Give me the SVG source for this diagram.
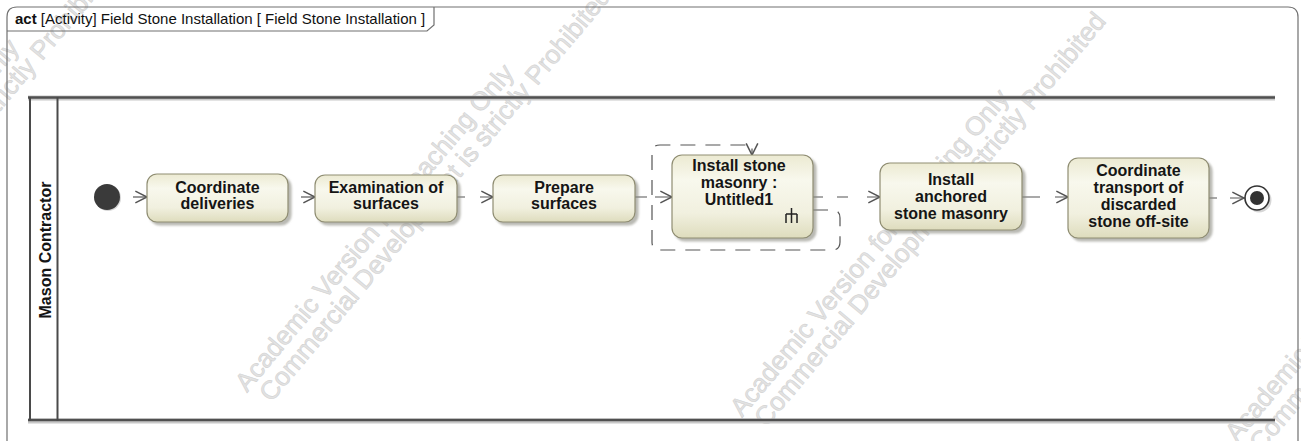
<svg xmlns="http://www.w3.org/2000/svg" width="1301" height="441" viewBox="0 0 1301 441">
<defs>
<linearGradient id="nodeFill" x1="0" y1="0" x2="0" y2="1">
<stop offset="0" stop-color="#ecead2"/>
<stop offset="0.3" stop-color="#f8f8ed"/>
<stop offset="0.7" stop-color="#f1f0df"/>
<stop offset="1" stop-color="#dedcbd"/>
</linearGradient>
<filter id="shadow" x="-10%" y="-10%" width="130%" height="140%">
<feDropShadow dx="3" dy="3" stdDeviation="1.3" flood-color="#8a8a80" flood-opacity="0.6"/>
</filter>
<marker id="arrow" markerUnits="userSpaceOnUse" markerWidth="14" markerHeight="14" refX="10" refY="5" orient="auto" viewBox="0 0 12 10">
<path d="M0,0 L10,5 L0,10" fill="none" stroke="#555" stroke-width="1.3"/>
</marker>
<style>
.frame{fill:none;stroke:#707070;stroke-width:1.2}
.wm{font-family:"Liberation Sans",Arial,sans-serif;font-size:26px;fill:#e3e3e3;stroke:#d2d2d2;stroke-width:0.6}
.lane{stroke:#4a4a4a;fill:none}
.node rect{fill:url(#nodeFill);stroke:#8f8d72;stroke-width:1.2;filter:url(#shadow)}
.lbl{font-family:"Liberation Sans",Arial,sans-serif;font-size:16px;font-weight:bold;fill:#151515;text-anchor:middle}
.conn{fill:none;stroke:#555;stroke-width:1.2}
</style>
</defs>
<rect width="1301" height="441" fill="#fff"/>

<g id="watermark">
<g transform="translate(-248,368) rotate(-50)"><text class="wm" x="0" y="0">Academic Version for Teaching Only</text><text class="wm" x="8" y="25">Commercial Development is strictly Prohibited</text></g>
<g transform="translate(247,393) rotate(-50)"><text class="wm" x="0" y="0">Academic Version for Teaching Only</text><text class="wm" x="8" y="25">Commercial Development is strictly Prohibited</text></g>
<g transform="translate(742,418) rotate(-50)"><text class="wm" x="0" y="0">Academic Version for Teaching Only</text><text class="wm" x="8" y="25">Commercial Development is strictly Prohibited</text></g>
<g transform="translate(1237,443) rotate(-50)"><text class="wm" x="0" y="0">Academic Version for Teaching Only</text><text class="wm" x="8" y="25">Commercial Development is strictly Prohibited</text></g>
</g>

<g id="frame">
<path class="frame" d="M7,441 V17 Q7,7 17,7 H1288 Q1298,7 1298,17 V441"/>
<path class="frame" d="M7,31 H427 L434,25 V7"/>
<text x="15" y="24" font-family="Liberation Sans, Arial, sans-serif" font-size="15" fill="#111"><tspan font-weight="bold">act</tspan> [Activity] Field Stone Installation [ Field Stone Installation ]</text>
</g>

<g id="lane-mason-contractor">
<line x1="28" y1="98" x2="1275" y2="98" stroke="#c8c8c8" stroke-width="5"/>
<line x1="28" y1="97.5" x2="1275" y2="97.5" stroke="#505050" stroke-width="2.5"/>
<line x1="28" y1="421" x2="1275" y2="421" stroke="#c8c8c8" stroke-width="5"/>
<line x1="28" y1="420" x2="1275" y2="420" stroke="#505050" stroke-width="2.5"/>
<line class="lane" x1="30" y1="97" x2="30" y2="421" stroke-width="2"/>
<line class="lane" x1="57.5" y1="97" x2="57.5" y2="421" stroke-width="2"/>
<text class="lbl" transform="translate(51,250) rotate(-90)">Mason Contractor</text>
</g>

<g id="connectors">
<path class="conn" d="M133,197 H147" marker-end="url(#arrow)"/>
<path class="conn" d="M301,197 H315" marker-end="url(#arrow)"/>
<path class="conn" d="M457,197 H465 M480,197 H493" marker-end="url(#arrow)"/>
<path class="conn" d="M635,197 H647 M655,197 H672" marker-end="url(#arrow)"/>
<path class="conn" d="M813,197 H823 M837,197 H848 M867,197 H880" marker-end="url(#arrow)"/>
<path class="conn" d="M1022,197 H1040 M1055,197 H1068" marker-end="url(#arrow)"/>
<path class="conn" d="M1209,198 H1217 M1230,198 H1244" marker-end="url(#arrow)"/>
<path class="conn" d="M813,210 H832 Q840,210 840,218 V242 Q840,250 832,250 H660 Q652,250 652,242 V153 Q652,145 660,145 H752 V155" stroke-dasharray="15 10" marker-end="url(#arrow)"/>
</g>

<g id="initial-node">
<circle cx="108" cy="198" r="13" fill="#bbb" opacity="0.6"/>
<circle cx="107" cy="197" r="13" fill="#3a3a3a"/>
</g>

<g id="node-coordinate-deliveries" class="node">
<rect x="147" y="174" width="141" height="48" rx="10"/>
<text class="lbl" x="217.5" y="193">Coordinate</text>
<text class="lbl" x="217.5" y="209">deliveries</text>
</g>

<g id="node-examination-of-surfaces" class="node">
<rect x="315" y="175" width="142" height="47" rx="10"/>
<text class="lbl" x="386" y="193">Examination of</text>
<text class="lbl" x="386" y="209">surfaces</text>
</g>

<g id="node-prepare-surfaces" class="node">
<rect x="493" y="175" width="142" height="47" rx="10"/>
<text class="lbl" x="564" y="193">Prepare</text>
<text class="lbl" x="564" y="209">surfaces</text>
</g>

<g id="node-install-stone-masonry" class="node">
<rect x="672" y="155" width="141" height="83" rx="10"/>
<text class="lbl" x="739" y="171">Install stone</text>
<text class="lbl" x="739" y="188">masonry :</text>
<text class="lbl" x="739" y="205">Untitled1</text>
<path d="M791.5,208 V223 M786,214 H797 M786,214 V223 M797,214 V223" fill="none" stroke="#222" stroke-width="1.5"/>
</g>

<g id="node-install-anchored-stone-masonry" class="node">
<rect x="880" y="163" width="142" height="67" rx="10"/>
<text class="lbl" x="951" y="185">Install</text>
<text class="lbl" x="951" y="202">anchored</text>
<text class="lbl" x="951" y="219">stone masonry</text>
</g>

<g id="node-coordinate-transport" class="node">
<rect x="1068" y="158" width="141" height="80" rx="10"/>
<text class="lbl" x="1138.5" y="176">Coordinate</text>
<text class="lbl" x="1138.5" y="193">transport of</text>
<text class="lbl" x="1138.5" y="210">discarded</text>
<text class="lbl" x="1138.5" y="227">stone off-site</text>
</g>

<g id="final-node">
<circle cx="1259" cy="200" r="12.5" fill="#bbb" opacity="0.6"/>
<circle cx="1257" cy="198" r="12" fill="#fff" stroke="#333" stroke-width="1.6"/>
<circle cx="1257" cy="198" r="7" fill="#333"/>
</g>
</svg>
